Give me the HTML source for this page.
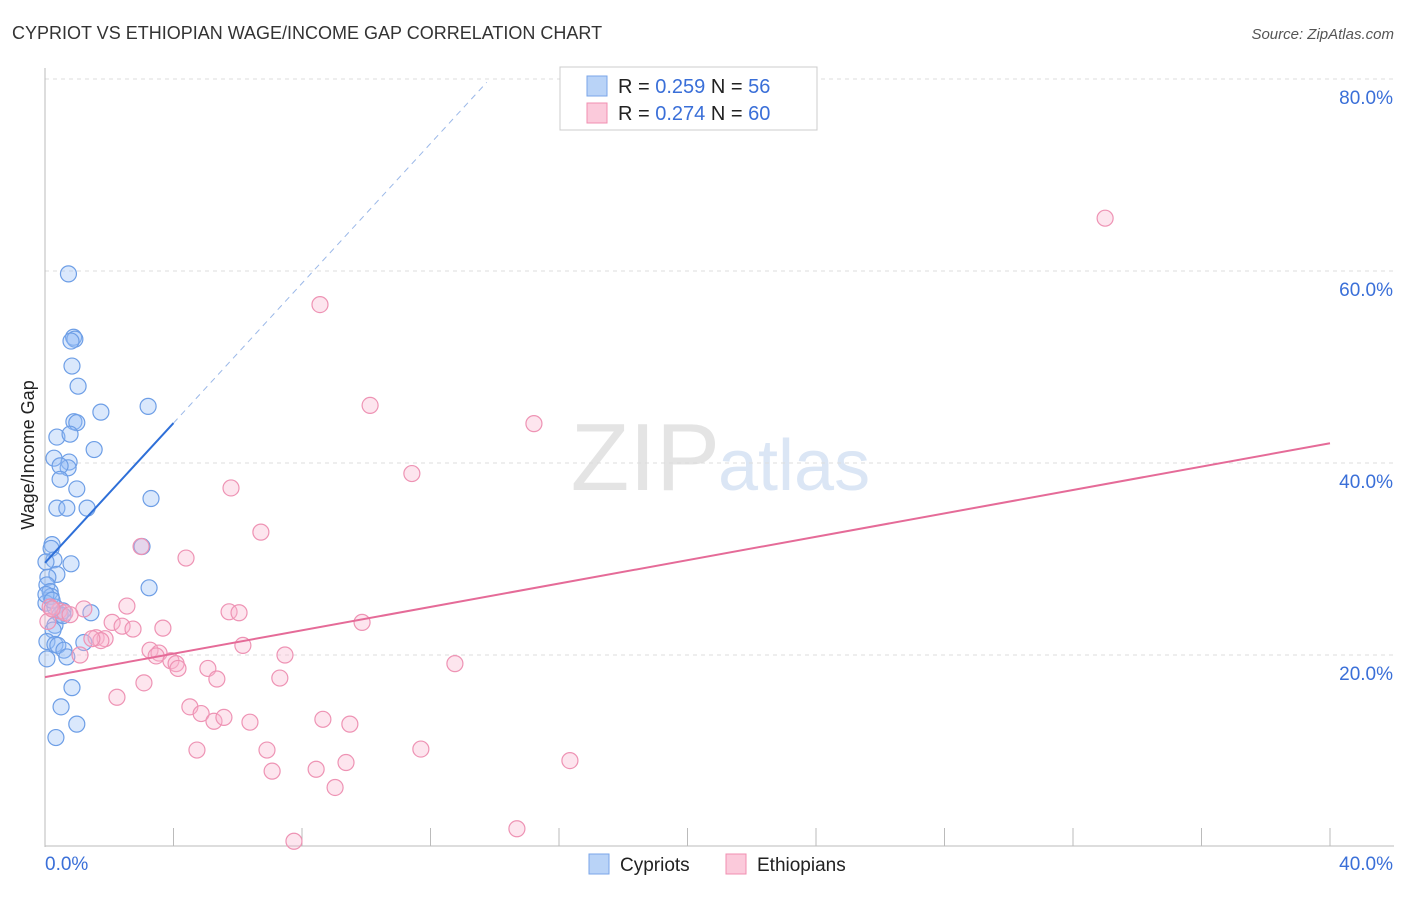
<!DOCTYPE html>
<html><head><meta charset="utf-8"><style>
body{margin:0;background:#fff;font-family:"Liberation Sans",sans-serif;}
svg text{font-family:"Liberation Sans",sans-serif;}
</style></head><body>
<svg id="c" width="1406" height="892" xmlns="http://www.w3.org/2000/svg">
<text x="12" y="39" font-size="18" fill="#333">CYPRIOT VS ETHIOPIAN WAGE/INCOME GAP CORRELATION CHART</text>
<text x="1394" y="39" font-size="15" fill="#555" text-anchor="end" font-style="italic">Source: ZipAtlas.com</text>
<text x="720" y="490" font-size="96" fill="#e4e4e4" text-anchor="end" font-family="Liberation Serif">ZIP</text>
<text x="718" y="490" font-size="72" fill="#dbe6f5">atlas</text>
<text x="34" y="455" font-size="18" fill="#222" text-anchor="middle" transform="rotate(-90 34 455)">Wage/Income Gap</text>
<g id="grid"></g><g id="marks"></g>
<g>
<rect x="560" y="67" width="257" height="63" fill="#fff" stroke="#ccc"/>
<rect x="587" y="76" width="20" height="20" fill="#b9d3f7" stroke="#7aa6e8"/>
<rect x="587" y="103" width="20" height="20" fill="#fbcadb" stroke="#f08fb0"/>
<text x="618" y="93" font-size="20" fill="#222">R = <tspan fill="#3a6fd8">0.259</tspan>   N = <tspan fill="#3a6fd8">56</tspan></text>
<text x="618" y="120" font-size="20" fill="#222">R = <tspan fill="#3a6fd8">0.274</tspan>   N = <tspan fill="#3a6fd8">60</tspan></text>
</g>
<g>
<rect x="589" y="854" width="20" height="20" fill="#b9d3f7" stroke="#7aa6e8"/>
<text x="620" y="871" font-size="19" fill="#222">Cypriots</text>
<rect x="726" y="854" width="20" height="20" fill="#fbcadb" stroke="#f08fb0"/>
<text x="757" y="871" font-size="19" fill="#222">Ethiopians</text>
</g>
</svg>
<script>
const xTicks=[0,40];
const yTicks=[20,40,60,80];
const cypX=[0.73,0.89,0.93,0.81,0.84,1.03,1.74,3.21,0.90,0.99,0.37,0.78,1.53,0.28,0.75,0.72,0.47,0.47,0.99,3.30,0.37,0.68,1.31,0.22,0.19,3.02,0.28,0.81,0.03,0.37,0.09,0.06,3.24,0.16,0.19,0.03,0.31,0.56,1.43,0.47,0.31,0.25,0.06,0.31,0.40,1.21,0.59,0.68,0.06,0.84,0.50,0.99,0.34,0.03,0.22,0.56];
const cypY=[59.7,53.1,52.9,52.7,50.1,48.0,45.3,45.9,44.3,44.2,42.7,43.0,41.4,40.5,40.1,39.5,39.7,38.3,37.3,36.3,35.3,35.3,35.3,31.5,31.1,31.3,29.9,29.5,29.7,28.4,28.1,27.3,27.0,26.6,26.1,25.4,25.0,24.6,24.4,24.2,23.1,22.6,21.4,21.1,21.0,21.3,20.5,19.8,19.6,16.6,14.6,12.8,11.4,26.3,25.7,24.1];
const ethX=[33.0,8.56,10.12,15.22,11.42,5.79,6.72,2.99,4.39,2.55,1.21,0.44,0.62,0.78,5.73,6.04,9.87,2.09,2.40,3.67,2.74,1.59,1.87,1.74,1.46,6.16,3.27,3.55,3.46,1.09,7.47,3.92,4.08,4.14,5.07,12.76,5.35,7.31,3.08,2.24,4.51,4.86,5.26,5.57,6.38,8.65,9.49,4.73,6.91,11.70,7.07,8.44,9.37,16.34,9.03,14.69,7.75,0.16,0.09,0.22];
const ethY=[65.5,56.5,46.0,44.1,38.9,37.4,32.8,31.3,30.1,25.1,24.8,24.6,24.4,24.2,24.5,24.4,23.4,23.4,23.0,22.8,22.7,21.8,21.7,21.5,21.7,21.0,20.5,20.2,19.9,20.0,20.0,19.4,19.1,18.6,18.6,19.1,17.5,17.6,17.1,15.6,14.6,13.9,13.1,13.5,13.0,13.3,12.8,10.1,10.1,10.2,7.9,8.1,8.8,9.0,6.2,1.9,0.6,25.0,23.5,24.8];
const ns="http://www.w3.org/2000/svg";
const X=v=>45+v*1285/40, Y=v=>847-v*9.6;
function mk(t,a,p){const e=document.createElementNS(ns,t);for(const k in a)e.setAttribute(k,a[k]);p.appendChild(e);return e;}
const g=document.getElementById('grid'),m=document.getElementById('marks');
yTicks.forEach(t=>{const l=mk('line',{x1:45,x2:1394,y1:Y(t),y2:Y(t),stroke:'#ddd','stroke-dasharray':'4 4'},g);


const tx=mk('text',{x:1393,y:Y(t)+25,'font-size':19,fill:'#3a6fd8','text-anchor':'end'},g);tx.textContent=t.toFixed(1)+'%';

});
mk('line',{x1:45,x2:45,y1:68,y2:847,stroke:'#bbb'},g);
mk('line',{x1:45,x2:1394,y1:846,y2:846,stroke:'#bbb'},g);
for(let i=1;i<=10;i++){mk('line',{x1:X(i*4),x2:X(i*4),y1:828,y2:846,stroke:'#bbb'},g);}
xTicks.forEach((t,i)=>{const tx=mk('text',{x:i?1393:45,y:870,'font-size':19,fill:'#3a6fd8','text-anchor':i?'end':'start'},g);tx.textContent=t.toFixed(1)+'%';

});
cypX.forEach((x,i)=>{const c=mk('circle',{cx:X(x),cy:Y(cypY[i]),r:8,fill:'rgba(150,190,245,0.35)',stroke:'#6d9ee6','stroke-width':1.2},m);

});
ethX.forEach((x,i)=>{const c=mk('circle',{cx:X(x),cy:Y(ethY[i]),r:8,fill:'rgba(248,180,205,0.35)',stroke:'#ee93b4','stroke-width':1.2},m);

});
const bI=29.6,bS=3.64,pI=17.7,pS=0.609;
let l=mk('line',{x1:X(0),y1:Y(bI),x2:X(4),y2:Y(bI+bS*4),stroke:'#2e6fd8','stroke-width':2},m);


l=mk('line',{x1:X(4),y1:Y(bI+bS*4),x2:X(13.75),y2:Y(bI+bS*13.75),stroke:'#9bb8e8','stroke-width':1,'stroke-dasharray':'6 5'},m);


l=mk('line',{x1:X(0),y1:Y(pI),x2:X(40),y2:Y(pI+pS*40),stroke:'#e56b98','stroke-width':2},m);


</script>
</body></html>
